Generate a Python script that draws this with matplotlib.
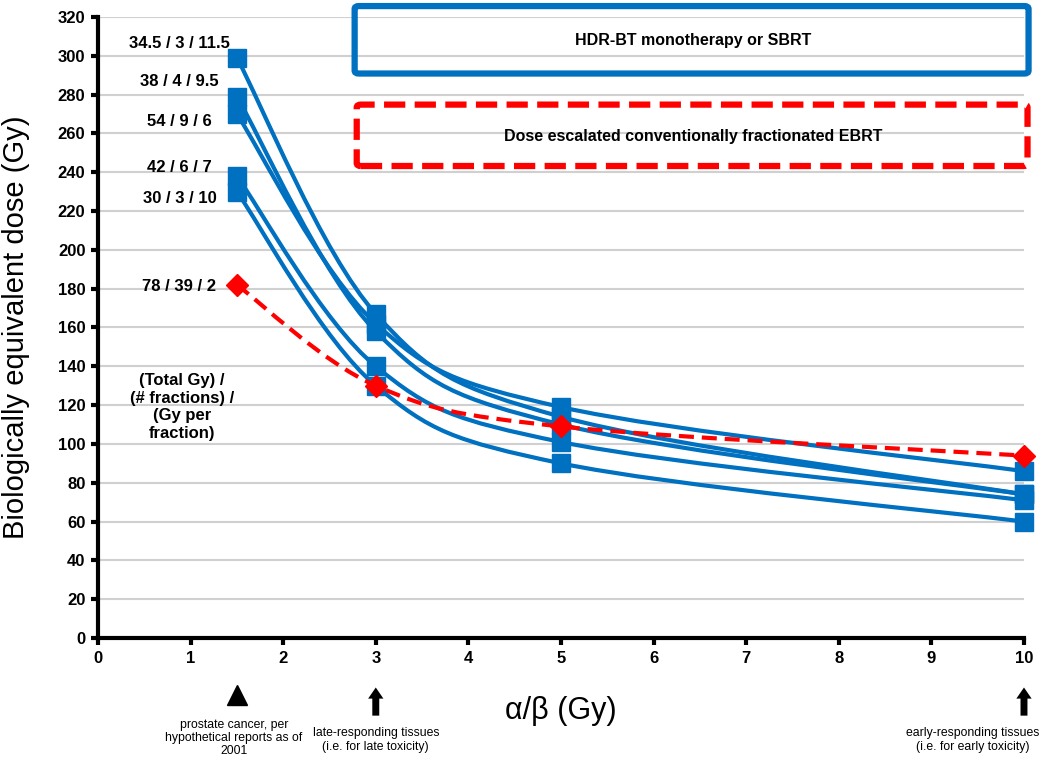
import matplotlib
matplotlib.use("Agg")
import matplotlib.pyplot as plt
from matplotlib.path import Path
from matplotlib.patches import PathPatch, FancyBboxPatch

plt.rcParams['font.family'] = ['Liberation Sans', 'DejaVu Sans']

# ---- data ----
alpha_beta = [1.5, 3, 5, 10]
schedules = ["34.5 / 3 / 11.5", "38 / 4 / 9.5", "54 / 9 / 6", "42 / 6 / 7", "30 / 3 / 10"]
bed_34_5 = [299, 167, 114, 74]
bed_38 = [279, 158, 110, 74]
bed_54 = [270, 162, 119, 86]
bed_42 = [238, 140, 101, 71]
bed_30 = [230, 130, 90, 60]
sbrt_series = [bed_34_5, bed_38, bed_54, bed_42, bed_30]
ebrt_label = "78 / 39 / 2"
bed_78 = [182, 130, 109, 94]
label_y = [306.5, 286.5, 266, 242.5, 226.5, 181]

x_ticks = list(range(0, 11))
y_ticks = list(range(0, 321, 20))

BLUE = '#0070c0'
RED = '#ff0000'


def smooth_path(xs, ys):
    """Excel-like smoothed line as cubic Bezier path through the points."""
    pts = list(zip(xs, ys))
    n = len(pts)
    verts = [pts[0]]
    codes = [Path.MOVETO]
    for i in range(n - 1):
        p0 = pts[i - 1] if i > 0 else pts[i]
        p1 = pts[i]
        p2 = pts[i + 1]
        p3 = pts[i + 2] if i + 2 < n else pts[i + 1]
        c1 = (p1[0] + (p2[0] - p0[0]) / 6.0, p1[1] + (p2[1] - p0[1]) / 6.0)
        c2 = (p2[0] - (p3[0] - p1[0]) / 6.0, p2[1] - (p3[1] - p1[1]) / 6.0)
        verts += [c1, c2, p2]
        codes += [Path.CURVE4] * 3
    return Path(verts, codes)


fig = plt.figure(figsize=(10.4, 7.58), dpi=100)
ax = fig.add_axes([0.0942, 0.1583, 0.8904, 0.8193])

ax.set_xlim(0, 10)
ax.set_ylim(0, 320)
ax.set_xticks(x_ticks)
ax.set_yticks(y_ticks)
ax.set_xticklabels([str(t) for t in x_ticks], fontsize=12, fontweight='bold')
ax.set_yticklabels([str(t) for t in y_ticks], fontsize=12, fontweight='bold')
ax.grid(axis='y', color='#d0d0d0', lw=1.5)
ax.set_axisbelow(True)
for s in ['top', 'right']:
    ax.spines[s].set_visible(False)
for s in ['left', 'bottom']:
    ax.spines[s].set_linewidth(3)
ax.tick_params(axis='both', direction='out', length=5, width=3, pad=4)
ax.set_ylabel('Biologically equivalent dose (Gy)', fontsize=21)
ax.yaxis.set_label_coords(-0.073, 0.5)
ax.set_xlabel('α/β (Gy)', fontsize=22, labelpad=22)

for ser in sbrt_series:
    ax.add_patch(PathPatch(smooth_path(alpha_beta, ser), fill=False,
                           edgecolor=BLUE, lw=3, zorder=3, clip_on=False))
    ax.plot(alpha_beta, ser, ls='none', marker='s', ms=13, color=BLUE,
            zorder=4, clip_on=False)

ax.add_patch(PathPatch(smooth_path(alpha_beta, bed_78), fill=False,
                       edgecolor=RED, lw=3, ls=(0, (3.6, 1.9)), zorder=5, clip_on=False))
ax.plot(alpha_beta, bed_78, ls='none', marker='D', ms=11, color=RED,
        zorder=6, clip_on=False)

for lab, yy in zip(schedules + [ebrt_label], label_y):
    ax.text(0.88, yy, lab, fontsize=12, fontweight='bold', ha='center', va='center')

ax.text(0.91, 119, '(Total Gy) /\n(# fractions) /\n(Gy per\nfraction)', fontsize=12,
        fontweight='bold', ha='center', va='center', linespacing=1.2)

# boxes in figure coordinates
fig.patches.append(FancyBboxPatch((0.341, 0.903), 0.648, 0.089,
                                  boxstyle='round,pad=0,rounding_size=0.004',
                                  transform=fig.transFigure, fill=False,
                                  edgecolor=BLUE, lw=4.5))
fig.text(0.666, 0.947, 'HDR-BT monotherapy or SBRT', fontsize=11.5,
         fontweight='bold', ha='center', va='center')
fig.patches.append(FancyBboxPatch((0.343, 0.781), 0.645, 0.081,
                                  boxstyle='round,pad=0,rounding_size=0.004',
                                  transform=fig.transFigure, fill=False,
                                  edgecolor=RED, lw=4.5, ls=(0, (3.4, 1.5))))
fig.text(0.667, 0.820, 'Dose escalated conventionally fractionated EBRT', fontsize=11.5,
         fontweight='bold', ha='center', va='center')

# bottom annotations
ax.plot([1.5], [-29.4], marker='^', ms=14, color='black', clip_on=False)
for xa in [3, 10]:
    ax.annotate('', xy=(xa, -25.5), xytext=(xa, -40),
                xycoords='data', annotation_clip=False,
                arrowprops=dict(arrowstyle='simple,head_width=1.1,head_length=0.8,tail_width=0.5',
                                color='black', lw=0, shrinkA=0, shrinkB=0))
ax.text(1.47, -41.5, 'prostate cancer, per\nhypothetical reports as of\n2001', fontsize=8.8,
        ha='center', va='top', linespacing=1.15, clip_on=False)
ax.text(3, -46, 'late-responding tissues\n(i.e. for late toxicity)', fontsize=8.8,
        ha='center', va='top', linespacing=1.15, clip_on=False)
ax.text(9.45, -46, 'early-responding tissues\n(i.e. for early toxicity)', fontsize=8.8,
        ha='center', va='top', linespacing=1.15, clip_on=False)

fig.savefig('out.png', dpi=100)
